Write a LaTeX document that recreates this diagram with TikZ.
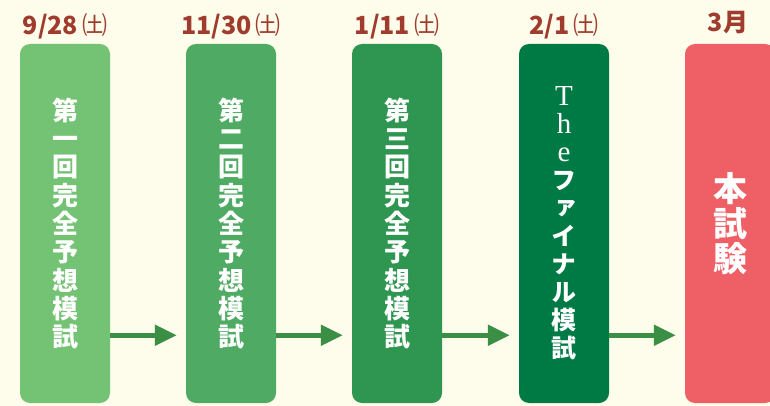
\documentclass[tikz,border=0pt]{standalone}
\usepackage{fontspec}
\usepackage{xcolor}
\usetikzlibrary{positioning,arrows.meta}

\newfontfamily\cjk{Noto Sans CJK JP}
\newfontfamily\cjkv{Noto Sans CJK JP}[RawFeature=+vert]
\newfontfamily\latinserif{Liberation Serif}

\definecolor{bgcream}{RGB}{254,252,234}
\definecolor{datered}{RGB}{160,60,45}
\definecolor{greenA}{RGB}{116,194,116}
\definecolor{greenB}{RGB}{79,170,99}
\definecolor{greenC}{RGB}{46,150,80}
\definecolor{greenD}{RGB}{0,122,69}
\definecolor{examred}{RGB}{238,95,102}
\definecolor{arrowgreen}{RGB}{58,143,68}

\newcommand{\romanch}[1]{{\latinserif\mdseries\fontsize{29}{28}\selectfont #1}}
\newcommand{\saturday}{\hspace{4pt}{\mdseries ㈯}}

\tikzset{
  exam/.style={rectangle, rounded corners=10pt, minimum width=90pt, minimum height=359pt,
    inner sep=0pt, text=white, align=center,
    font=\cjkv\bfseries\fontsize{26}{28.3}\selectfont},
  date/.style={text=datered, inner sep=0pt, font=\cjk\bfseries\fontsize{25}{30}\selectfont},
  flow/.style={draw=arrowgreen, line width=5pt, -{Triangle[length=22pt,width=20pt]}},
}

\begin{document}
\begin{tikzpicture}[x=1pt,y=-1pt]
	% Background
	\fill[bgcream] (0,0) rectangle (770,406);
	\useasboundingbox (0,0) rectangle (770,406);
	\clip (0,0) rectangle (770,406);
	
	% Exam boxes
	\node[exam, fill=greenA] (m1) at (65,223.5) {第\\一\\回\\完\\全\\予\\想\\模\\試};
	\node[exam, fill=greenB] (m2) at (231,223.5) {第\\二\\回\\完\\全\\予\\想\\模\\試};
	\node[exam, fill=greenC] (m3) at (397,223.5) {第\\三\\回\\完\\全\\予\\想\\模\\試};
	\node[exam, fill=greenD, font=\cjkv\bfseries\fontsize{25}{28}\selectfont] (m4) at (564,223.5)
		{\romanch{T}\\\romanch{h}\\\romanch{e}\\フ\\ァ\\イ\\ナ\\ル\\模\\試};
	\node[exam, fill=examred, font=\cjkv\bfseries\fontsize{34}{35}\selectfont] (m5) at (730,223.5) {本\\試\\験};
	
	% Dates
	\node[date, above=9pt of m1.north, anchor=base] (d1) {9/28\saturday};
	\node[date, above=9pt of m2.north, anchor=base] (d2) {11/30\saturday};
	\node[date, above=9pt of m3.north, anchor=base] (d3) {1/11\saturday};
	\node[date, above=9pt of m4.north, anchor=base] (d4) {2/1\saturday};
	\node[date, above=12pt of m5.north, anchor=base, xshift=-2pt] (d5) {3月};
	
	% Arrows
	\foreach \a/\b in {m1/m2,m2/m3,m3/m4,m4/m5}
		\draw[flow] ([yshift=68pt]\a.south east) -- ([yshift=68pt,xshift=-9pt]\b.south west);
\end{tikzpicture}
\end{document}
